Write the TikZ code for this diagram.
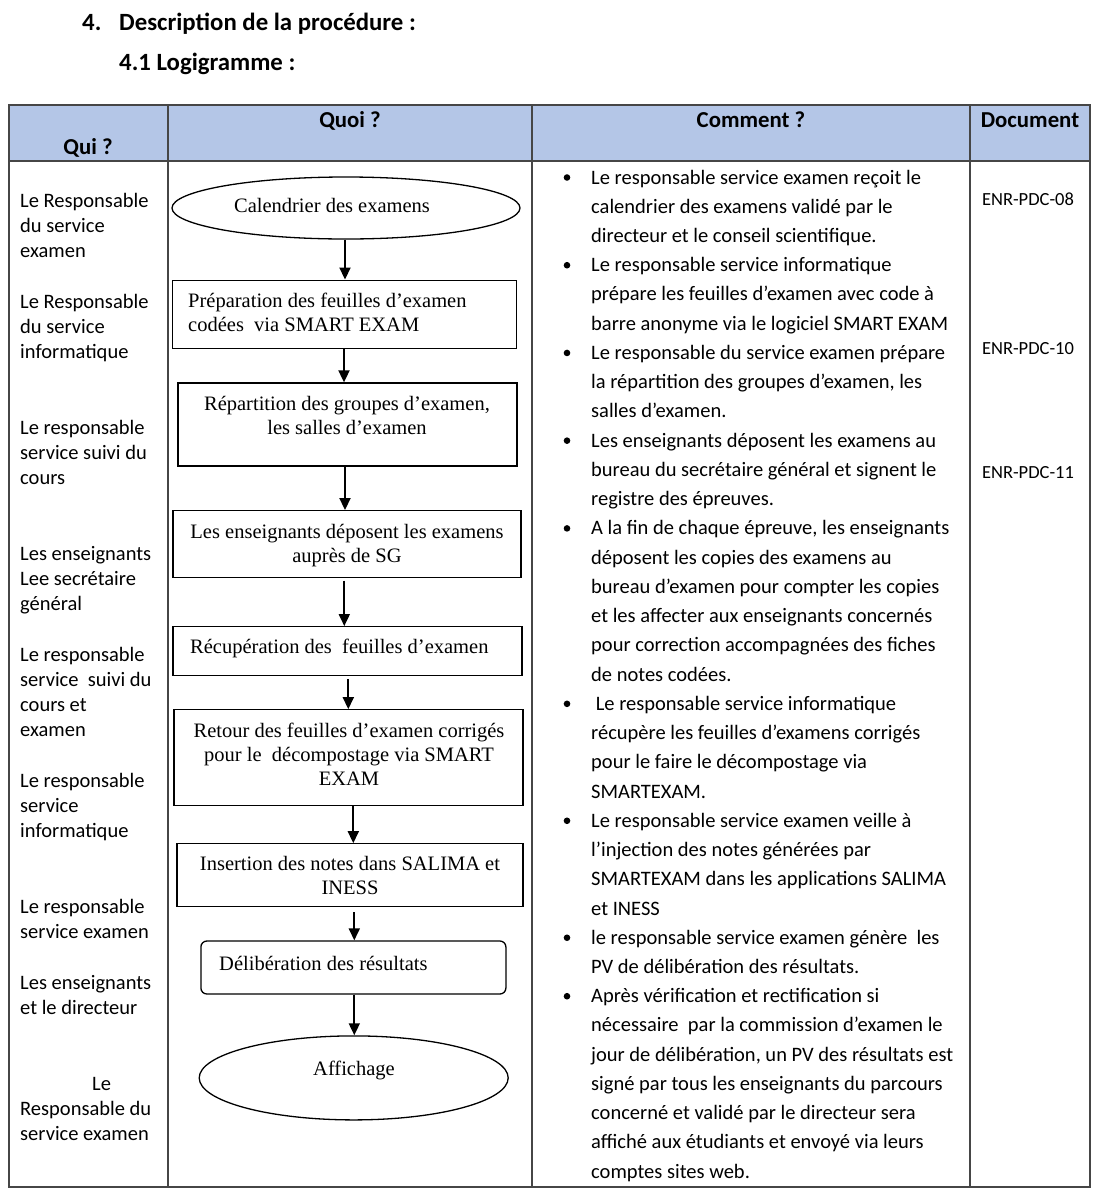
\documentclass[tikz,border=0pt]{standalone}
\usepackage{fontspec}
\setmainfont{Carlito}
\newfontfamily\tnr{Liberation Serif}
\usetikzlibrary{arrows.meta,shapes.geometric}
\definecolor{hdr}{RGB}{180,198,231}
\definecolor{tgray}{RGB}{70,70,70}
\begin{document}
\begin{tikzpicture}[x=1pt,y=-1pt,
  titlef/.style={font=\fontsize{24.8}{29}\bfseries\selectfont, inner sep=0, anchor=base west},
  hd/.style={font=\fontsize{22.8}{27}\bfseries\selectfont, inner sep=0, anchor=base},
  body/.style={font=\fontsize{20.5}{25}\selectfont, inner sep=0, anchor=base west},
  docf/.style={font=\fontsize{18.5}{22}\selectfont, inner sep=0, anchor=base},
  tline/.style={draw=tgray, line width=1.4pt},
  fbox/.style={draw, line width=1.3pt, inner sep=0, rectangle},
  fell/.style={draw, line width=1.3pt, inner sep=0, ellipse},
  ft/.style={inner sep=0, font=\tnr\fontsize{20.5}{24}\selectfont},
  arr/.style={line width=1.8pt, -{Triangle[length=12pt,width=11pt]}},
]
\useasboundingbox (0,0) rectangle (1108,1200);

% titles
\node[titlef] (num) at (82,30) {4.};
\node[titlef] (tit1) at (119,30) {Description de la procédure :};
\node[titlef] (tit2) at (119,70) {4.1 Logigramme :};

% table frame
\fill[hdr] (9,105) rectangle (1090,161);
\draw[tline] (9,105) rectangle (1090,1187);
\draw[tline] (9,161) -- (1090,161);
\foreach \x in {168,532,970} \draw[tline] (\x,105) -- (\x,1187);

% headers
\node[hd] (hqui) at (88,154) {Qui ?};
\node[hd] (hquoi) at (350,127) {Quoi ?};
\node[hd] (hcomment) at (751,127) {Comment ?};
\node[hd] (hdoc) at (1030,127) {Document};

% Qui column
\foreach \yy/\t [count=\i] in {
  207/Le Responsable, 232/du service, 257/examen,
  308/Le Responsable, 333/du service, 358/informatique,
  434/Le responsable, 459/service suivi du, 484/cours,
  560/Les enseignants, 585/Lee secrétaire, 610/général,
  661/Le responsable, 686/service\ \ suivi du, 711/cours et, 736/examen,
  787/Le responsable, 812/service, 837/informatique,
  913/Le responsable, 938/service examen,
  989/Les enseignants, 1014/et le directeur,
  1115/Responsable du, 1140/service examen}
  \node[body] (q\i) at (20,\yy) {\t};
\node[body] (qle) at (92,1090) {Le};

% Comment column
\foreach \t [count=\k] in {
  {Le responsable service examen reçoit le},
  {calendrier des examens validé par le},
  {directeur et le conseil scientifique.},
  {Le responsable service informatique},
  {prépare les feuilles d’examen avec code à},
  {barre anonyme via le logiciel SMART EXAM},
  {Le responsable du service examen prépare},
  {la répartition des groupes d’examen, les},
  {salles d’examen.},
  {Les enseignants déposent les examens au},
  {bureau du secrétaire général et signent le},
  {registre des épreuves.},
  {A la fin de chaque épreuve, les enseignants},
  {déposent les copies des examens au},
  {bureau d’examen pour compter les copies},
  {et les affecter aux enseignants concernés},
  {pour correction accompagnées des fiches},
  {de notes codées.},
  {\ Le responsable service informatique},
  {récupère les feuilles d’examens corrigés},
  {pour le faire le décompostage via},
  {SMARTEXAM.},
  {Le responsable service examen veille à},
  {l’injection des notes générées par},
  {SMARTEXAM dans les applications SALIMA},
  {et INESS},
  {le responsable service examen génère\ \ les},
  {PV de délibération des résultats.},
  {Après vérification et rectification si},
  {nécessaire\ \ par la commission d’examen le},
  {jour de délibération, un PV des résultats est},
  {signé par tous les enseignants du parcours},
  {concerné et validé par le directeur sera},
  {affiché aux étudiants et envoyé via leurs},
  {comptes sites web.}}
  \node[body] (c\k) at (591,{184+29.24*(\k-1)}) {\t};
\foreach \k in {1,4,7,10,13,19,23,27,29}
  \fill (567,{184+29.24*(\k-1)-6.5}) circle (3.3);

% Document column
\node[docf] (d1) at (1028,205) {ENR-PDC-08};
\node[docf] (d2) at (1028,354) {ENR-PDC-10};
\node[docf] (d3) at (1028,478) {ENR-PDC-11};

% flowchart shapes
\node[fell, minimum width=348, minimum height=62] (b1) at (346,208) {};
\node[fbox, minimum width=344, minimum height=68] (b2) at (344.5,314.2) {};
\node[fbox, minimum width=339, minimum height=83] (b3) at (347.5,424.5) {};
\node[fbox, minimum width=348, minimum height=67] (b4) at (347,544.2) {};
\node[fbox, minimum width=349, minimum height=49] (b5) at (347.5,651.2) {};
\node[fbox, minimum width=349, minimum height=96] (b6) at (348.5,757.8) {};
\node[fbox, minimum width=346, minimum height=63] (b7) at (350,875.3) {};
\node[fbox, rounded corners=6pt, minimum width=305, minimum height=53] (b8) at (353.4,967.5) {};
\node[fell, minimum width=309, minimum height=84] (b9) at (353.7,1077.9) {};

% flowchart texts
\node[ft, anchor=base] (l1) at (332,212) {Calendrier des examens};
\node[ft, anchor=base west] (l2a) at (188,307) {Préparation des feuilles d’examen};
\node[ft, anchor=base west] (l2b) at (188,331) {codées\ \ via SMART EXAM};
\node[ft, anchor=base] (l3a) at (347,410) {Répartition des groupes d’examen,};
\node[ft, anchor=base] (l3b) at (347,434) {les salles d’examen};
\node[ft, anchor=base] (l4a) at (347,538) {Les enseignants déposent les examens};
\node[ft, anchor=base] (l4b) at (347,562) {auprès de SG};
\node[ft, anchor=base west] (l5) at (190,653) {Récupération des\ \ feuilles d’examen};
\node[ft, anchor=base] (l6a) at (349,737) {Retour des feuilles d’examen corrigés};
\node[ft, anchor=base] (l6b) at (349,761) {pour le\ \ décompostage via SMART};
\node[ft, anchor=base] (l6c) at (349,785) {EXAM};
\node[ft, anchor=base] (l7a) at (350,870) {Insertion des notes dans SALIMA et};
\node[ft, anchor=base] (l7b) at (350,894) {INESS};
\node[ft, anchor=base west] (l8) at (219,970) {Délibération des résultats};
\node[ft, anchor=base] (l9) at (354,1075) {Affichage};

% arrows
\draw[arr] ([xshift=-1]b1.south) -- ([xshift=-1]b1.south |- b2.north);
\draw[arr] ([xshift=-0.5]b2.south) -- ([xshift=-0.5]b2.south |- b3.north);
\draw[arr] ([xshift=-2.5]b3.south) -- ([xshift=-2.5]b3.south |- b4.north);
\draw[arr, shorten <=2.3pt] ([xshift=-2.7]b4.south) -- ([xshift=-2.7]b4.south |- b5.north);
\draw[arr, shorten <=3pt] ([xshift=0.8]b5.south) -- ([xshift=0.8]b5.south |- b6.north);
\draw[arr] ([xshift=4.8]b6.south) -- ([xshift=4.8]b6.south |- b7.north);
\draw[arr, shorten <=5pt] ([xshift=4.3]b7.south) -- ([xshift=4.3]b7.south |- b8.north);
\draw[arr] ([xshift=0.9]b8.south) -- ([xshift=0.9]b8.south |- b9.north);
\end{tikzpicture}
\end{document}
